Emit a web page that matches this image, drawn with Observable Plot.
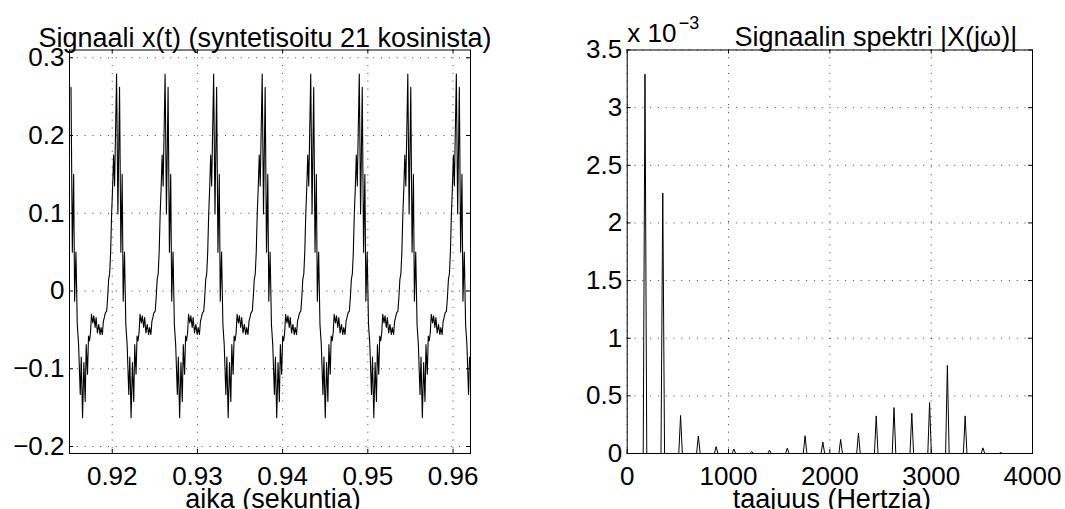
<!DOCTYPE html>
<html><head><meta charset="utf-8">
<script src="https://cdn.jsdelivr.net/npm/d3@7"></script>
<script src="https://cdn.jsdelivr.net/npm/@observablehq/plot@0.6"></script>
<style>
body{margin:0;background:#fff;}
#wrap{position:relative;width:1065px;height:509px;overflow:hidden;background:#fff;}
#wrap svg{position:absolute;top:0;overflow:visible;}
</style></head><body><div id="wrap"></div>
<script>
// ---------- Left panel: x(t), one period (repeats every period) ----------
const periodMs = 5.697;            // period of the waveform (≈ 1/175.55 Hz)
const firstPeakTime = 0.92051;     // time of a main peak (s)
const shapeOffsetMs = [-2.093,-1.938,-1.821,-1.666,-1.550,-1.434,-1.318,-1.163,-1.046,-0.930,-0.814,-0.698,-0.581,-0.465,-0.349,-0.233,
  0,0.155,0.349,0.504,0.659,0.775,0.930,1.085,1.240,1.434,1.550,1.705,1.860,2.015,2.132,2.287,2.403,2.519,2.635,2.752,2.907,3.023,3.178,3.294,3.449];
const shapeValue = [-0.043,-0.056,-0.047,-0.056,-0.039,-0.034,-0.028,-0.026,-0.008,0.015,0.022,0.050,0.099,0.133,0.175,0.135,
  0.279,0.099,0.262,0.050,0.150,-0.013,0.050,-0.043,-0.069,-0.133,-0.085,-0.163,-0.092,-0.142,-0.069,-0.107,-0.058,-0.064,-0.054,-0.030,-0.041,-0.032,-0.047,-0.034,-0.054];
const timeDomain = [0.914985, 0.96205];
const timeTicks = [0.92, 0.93, 0.94, 0.95, 0.96];
const signalDomain = [-0.209, 0.31];
const signalTicks = [-0.2, -0.1, 0, 0.1, 0.2, 0.3];

// ---------- Right panel: |X(jw)| at the 21 harmonics (values ×10^-3) ----------
const fundamentalHz = 175.55;
const binWidthHz = 17.555;
const harmonicNumber = [1,2,3,4,5,6,7,8,9,10,11,12,13,14,15,16,17,18,19,20,21];
const harmonicMagnitude = [3.29,2.26,0.33,0.152,0.06,0.039,0.017,0.029,0.046,0.154,0.099,0.122,0.177,0.326,0.398,0.349,0.442,0.764,0.326,0.049,0.008];
const freqDomain = [0, 4000];
const freqTicks = [0, 1000, 2000, 3000, 4000];
const magDomain = [0, 3.5];
const magTicks = [0, 0.5, 1, 1.5, 2, 2.5, 3, 3.5];

// ---------- build tables ----------
const signal = [];
for (let k = -2; k <= 9; k++) {
  shapeOffsetMs.forEach((o, i) => {
    const t = firstPeakTime + (k * periodMs + o) / 1000;
    if (t >= timeDomain[0] && t <= timeDomain[1]) signal.push({t, v: shapeValue[i]});
  });
}
signal.sort((a, b) => a.t - b.t);

const spectrum = [{f: 0, m: 0}];
harmonicNumber.forEach((k, i) => {
  const f = k * fundamentalHz;
  spectrum.push({f: f - binWidthHz, m: 0}, {f, m: harmonicMagnitude[i]}, {f: f + binWidthHz, m: 0});
});
spectrum.push({f: 4000, m: 0});

const FONT = "'Liberation Sans', Arial, Helvetica, sans-serif";
const TICK = 4;
const gridStyle = {stroke: "#000", strokeOpacity: 0.75, strokeWidth: 1, strokeDasharray: "1,6.8"};

function panel({left, width, mL, mR, xDomain, yDomain, xTicks, yTicks, xFmt, yFmt, lineMarks, extraText}) {
  const mT = 49.5, mB = 56, H = 509;
  const fw = width - mL - mR, fh = H - mT - mB;
  const svg = Plot.plot({
    width, height: H,
    marginLeft: mL, marginRight: mR, marginTop: mT, marginBottom: mB,
    style: {fontFamily: FONT, fontSize: "26px", color: "#000", background: "transparent", overflow: "visible"},
    x: {domain: xDomain},
    y: {domain: yDomain},
    marks: [
      Plot.gridX(xTicks, {x: d => d, ...gridStyle}),
      Plot.gridY(yTicks, {y: d => d, ...gridStyle}),
      ...lineMarks,
      Plot.tickX(xTicks, {x: d => d, stroke: "#000", insetTop: fh - TICK}),
      Plot.tickX(xTicks, {x: d => d, stroke: "#000", insetBottom: fh - TICK}),
      Plot.tickY(yTicks, {y: d => d, stroke: "#000", insetRight: fw - TICK}),
      Plot.tickY(yTicks, {y: d => d, stroke: "#000", insetLeft: fw - TICK}),
      Plot.axisX(xTicks, {tickSize: 0, tickPadding: 13, label: null, tickFormat: xFmt, fontSize: 26, fill: "#000"}),
      Plot.axisY(yTicks, {tickSize: 0, tickPadding: 5, label: null, tickFormat: yFmt, fontSize: 26, fill: "#000"}),
      Plot.frame({stroke: "#000", strokeWidth: 1}),
      ...extraText
    ]
  });
  svg.style.left = left + "px";
  document.getElementById("wrap").appendChild(svg);
}

panel({
  left: 0, width: 530, mL: 69, mR: 60,
  xDomain: timeDomain, yDomain: signalDomain, xTicks: timeTicks, yTicks: signalTicks,
  xFmt: d3.format(".2f"), yFmt: d => d === 0 ? "0" : d3.format(".1f")(d),
  lineMarks: [Plot.line(signal, {x: "t", y: "v", stroke: "#000", strokeWidth: 1.1})],
  extraText: [
    Plot.text(["Signaali x(t) (syntetisoitu 21 kosinista)"], {frameAnchor: "top", dx: -5, dy: -3, lineAnchor: "bottom", fontSize: 27, fill: "#000"}),
    Plot.text(["aika (sekuntia)"], {frameAnchor: "bottom", dx: 3, dy: 54, lineAnchor: "bottom", fontSize: 27, fill: "#000"})
  ]
});

panel({
  left: 540, width: 525, mL: 86.7, mR: 33,
  xDomain: freqDomain, yDomain: magDomain, xTicks: freqTicks, yTicks: magTicks,
  xFmt: d => String(d), yFmt: d => String(d),
  lineMarks: [Plot.line(spectrum, {x: "f", y: "m", stroke: "#000", strokeWidth: 1})],
  extraText: [
    Plot.text(["Signaalin spektri |X(jω)|"], {frameAnchor: "top", dx: 46, dy: -4.5, lineAnchor: "bottom", fontSize: 27, fill: "#000"}),
    Plot.text(["x 10"], {frameAnchor: "top-left", textAnchor: "start", dx: 0, dy: -8, lineAnchor: "bottom", fontSize: 26, fill: "#000"}),
    Plot.text(["\u22123"], {frameAnchor: "top-left", textAnchor: "start", dx: 51.5, dy: -21.5, lineAnchor: "bottom", fontSize: 18, fill: "#000"}),
    Plot.text(["taajuus (Hertzia)"], {frameAnchor: "bottom", dx: 2, dy: 54, lineAnchor: "bottom", fontSize: 27, fill: "#000"})
  ]
});
</script></body></html>
